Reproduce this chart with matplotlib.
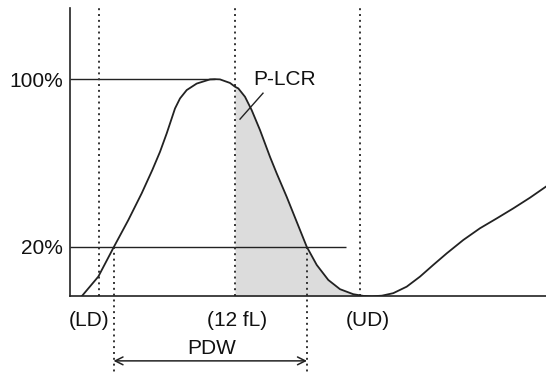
import matplotlib
matplotlib.use("Agg")
import matplotlib.pyplot as plt
import numpy as np

plt.rcParams['font.family'] = ['Liberation Sans', 'DejaVu Sans']

# Platelet volume distribution curve (x: volume axis, arbitrary units; y: % of peak)
curve_x = [81.7, 98.3, 114, 128.3, 141.7, 152.3, 160, 166.7, 175, 180, 186.7, 196.7, 210, 215,
           220, 230, 235, 238.3, 245, 251.7, 260, 270, 276.7, 286.7, 296.7, 306.7, 316.7, 328.3,
           340, 353.3, 363.3, 372, 382, 393.3, 406.7, 420, 433.3, 446.7, 463.3, 480, 496.7,
           513.3, 530, 546]
curve_y = [-3.7, 5.7, 20.0, 32.7, 45.5, 56.6, 65.3, 74.1, 86.0, 90.8, 94.8, 97.9, 99.9, 100.0,
           99.9, 98.2, 96.4, 95.6, 91.6, 85.2, 75.7, 62.9, 55.0, 43.8, 31.9, 20.0, 11.3, 4.1,
           -0.3, -2.7, -3.5, -3.7, -3.4, -2.2, 0.9, 5.7, 11.3, 16.8, 23.2, 28.8, 33.5,
           38.3, 43.4, 48.7]

# markers on the volume axis
ld_x, fl12_x, ud_x = 99, 235, 360
pdw_left, pdw_right = 113.5, 307
shade_end = 376.7
levels = [20, 100]
level_labels = ["20%", "100%"]
level_ends = [346, 215]
axis_labels = ["(LD)", "(12 fL)", "(UD)"]
axis_label_x = [89, 237, 368]

base = -3.7
top = 134.0

fig = plt.figure(figsize=(5.46, 3.72), dpi=100)
ax = fig.add_axes([70/546, (372-296.3)/372, 476/546, 288.3/372])
ax.set_xlim(70, 546)
ax.set_ylim(base, top)

for s in ['top', 'right']:
    ax.spines[s].set_visible(False)
for s in ['left', 'bottom']:
    ax.spines[s].set_color('#222222')
    ax.spines[s].set_linewidth(1.2)

ax.set_xticks([])
ax.set_yticks(levels)
ax.set_yticklabels(level_labels, fontsize=15, color='#111111')
ax.tick_params(axis='y', length=0, pad=5)

cx = np.array(curve_x)
cy = np.array(curve_y)

# shaded P-LCR area
mask = (cx >= fl12_x) & (cx <= shade_end)
ax.fill_between(cx[mask], base, cy[mask], color='#dcdcdc', linewidth=0, zorder=1)

# level lines
for lv, xe in zip(levels, level_ends):
    ax.plot([70, xe], [lv, lv], color='#222222', lw=1.0, zorder=2, solid_capstyle='butt')

# dotted verticals
dot_kw = dict(color='#333333', lw=1.4, linestyle=(0, (1, 2.0)), zorder=2)
for xv in [ld_x, fl12_x, ud_x]:
    ax.plot([xv, xv], [base, top], **dot_kw)
for xv in [pdw_left, pdw_right]:
    ax.plot([xv, xv], [20, -40], clip_on=False, **dot_kw)

# curve
ax.plot(cx, cy, color='#222222', lw=1.3, zorder=3, solid_joinstyle='round')

def px2pct(ypx):
    return (288.6 - ypx) / 2.096

# axis labels
for lab, xl in zip(axis_labels, axis_label_x):
    ax.text(xl, px2pct(321), lab, ha='center', va='center', fontsize=15,
            color='#111111', clip_on=False)

# PDW arrow
ax.annotate('', xy=(pdw_left, px2pct(361)), xytext=(pdw_right, px2pct(361)),
            arrowprops=dict(arrowstyle='<->', color='#222222', lw=1.1,
                            mutation_scale=14, shrinkA=0, shrinkB=0),
            annotation_clip=False)
ax.text(212, px2pct(349), 'PDW', ha='center', va='center', fontsize=15,
        color='#111111', clip_on=False)

# P-LCR label and pointer
ax.text(285, px2pct(79), 'P-LCR', ha='center', va='center', fontsize=15, color='#111111')
ax.plot([263, 240], [px2pct(93), px2pct(119)], color='#222222', lw=1.0, zorder=3)

fig.savefig('out.png', dpi=100)
